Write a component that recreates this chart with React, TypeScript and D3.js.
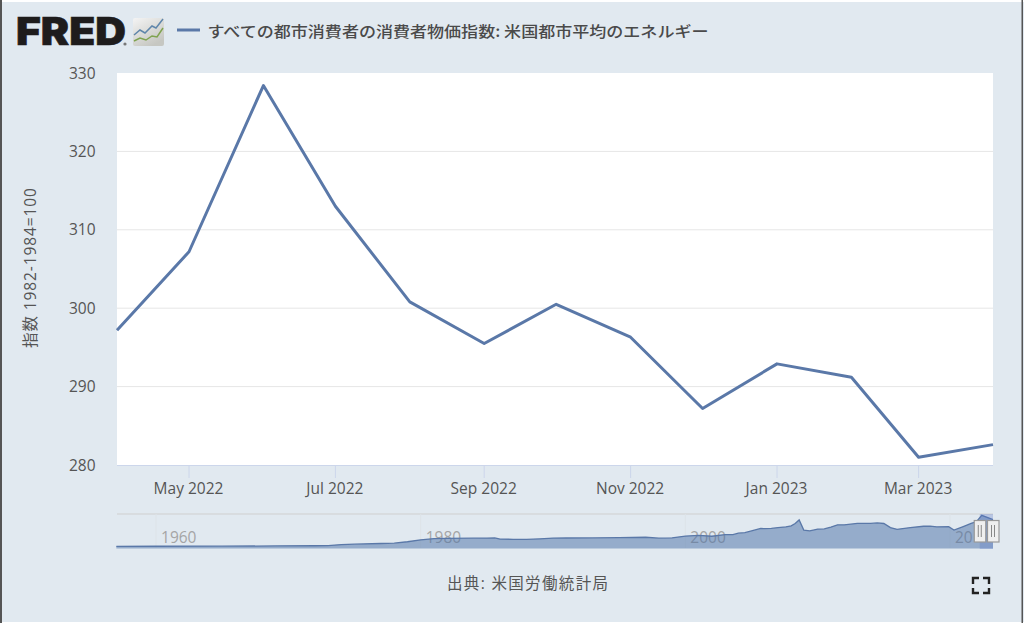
import React from "react";
import * as d3 from "d3";

const W = 1024;
const H = 623;

const monthDates = ["2022-04-01","2022-05-01","2022-06-01","2022-07-01","2022-08-01","2022-09-01","2022-10-01","2022-11-01","2022-12-01","2023-01-01","2023-02-01","2023-03-01","2023-04-01"];
const monthValues = [297.2,307.2,328.4,313.0,300.8,295.5,300.5,296.3,287.2,292.9,291.2,281.0,282.6];
const yTicks = [280,290,300,310,320,330];
const xTickDates = ["2022-05-01","2022-07-01","2022-09-01","2022-11-01","2023-01-01","2023-03-01"];
const xTickLabels = ["May 2022","Jul 2022","Sep 2022","Nov 2022","Jan 2023","Mar 2023"];

const navYears = [1957,1960,1965,1969,1972,1973,1974,1975,1977,1978,1979,1980,1981,1982,1984,1985,1985.6,1986,1987,1988,1989,1990,1991,1993,1995,1997,1998,1999,2000,2001,2002,2003,2003.6,2004,2004.5,2005,2005.7,2006,2006.5,2007,2007.6,2008,2008.3,2008.6,2008.95,2009.4,2010,2010.5,2011,2011.5,2012,2013,2014,2014.5,2015,2015.5,2016,2017,2018,2018.5,2019,2019.9,2020.3,2021,2021.6,2022,2022.4,2023.25];
const navValues = [21,22,23,25,27,29,38,42,49,52,66,85,97,99,101,102,104,92,90,90,95,102,103,104,106,110,101,105,122,129,120,136,135,150,155,172,196,194,197,205,212,222,245,280,180,172,190,192,210,232,232,246,246,250,245,205,188,205,218,220,212,213,180,215,245,262,325,283];
const navTicks = [1960,1980,2000,2020];
const navTickLabels = ["1960","1980","2000","20"];

const title = "すべての都市消費者の消費者物価指数: 米国都市平均のエネルギー";
const yAxisTitle = "指数 1982-1984=100";
const source = "出典: 米国労働統計局";

const parse = d3.utcParse("%Y-%m-%d");
const BG = "#e1e9f0";
const BLUE = "#5a78a8";
const TXT = "#555";
const FONT = "'Open Sans','Noto Sans CJK JP',sans-serif";
const CJK = "'Noto Sans CJK JP','Open Sans',sans-serif";

const x = d3.scaleUtc().domain([parse(monthDates[0])!, parse(monthDates[monthDates.length - 1])!]).range([117, 993]);
const y = d3.scaleLinear().domain([280, 330]).range([465, 73]);
const navX = d3.scaleLinear().domain([1957.05, 2023.25]).range([117, 993]);
const navY = d3.scaleLinear().domain([0, 328]).range([548.5, 515]);

const series = monthDates.map((d, i) => ({ d: parse(d)!, v: monthValues[i] }));
const linePath = d3.line<{ d: Date; v: number }>().x((p) => x(p.d)).y((p) => y(p.v))(series)!;
const navSeries = navYears.map((t, i) => ({ t, v: navValues[i] }));
const navLine = d3.line<{ t: number; v: number }>().x((p) => navX(p.t)).y((p) => navY(p.v))(navSeries)!;
const navArea = d3.area<{ t: number; v: number }>().x((p) => navX(p.t)).y0(548.5).y1((p) => navY(p.v))(navSeries)!;
const selStart = navX(2022.25);

const Handle = ({ cx }: { cx: number }) => (
  <g>
    <rect x={cx - 5.5} y={520.5} width={11.5} height={21.5} fill="#efefef" stroke="#999" strokeWidth={1.2} />
    <line x1={cx - 1.5} x2={cx - 1.5} y1={525} y2={537} stroke="#888" />
    <line x1={cx + 1.5} x2={cx + 1.5} y1={525} y2={537} stroke="#888" />
  </g>
);

export default function App() {
  return (
    <svg width={W} height={H} viewBox={`0 0 ${W} ${H}`} style={{ position: "absolute", left: 0, top: 0, background: "#fff" }}>
      <rect x={0} y={2} width={W} height={620} fill={BG} />
      <rect x={0} y={0} width={2} height={H} fill="#555" />
      <rect x={1021.5} y={0} width={1.5} height={H} fill="#555" />

      {/* logo */}
      <text x={16} y={45} fontFamily="Inter, 'Liberation Sans', sans-serif" fontWeight={900} fontSize={38} fill="#1e1c1c" stroke="#1e1c1c" strokeWidth={0.6} textLength={110} lengthAdjust="spacingAndGlyphs">FRED</text>
      <circle cx={125} cy={44} r={1.6} fill="#777" />
      <defs>
        <linearGradient id="logoBg" x1="0" y1="0" x2="0.6" y2="1">
          <stop offset="0" stopColor="#f4f4f4" />
          <stop offset="1" stopColor="#c6c7c2" />
        </linearGradient>
      </defs>
      <rect x={133} y={18} width={31} height={28} rx={2} fill="url(#logoBg)" />
      <polyline points="134,35 140,30 145,33 152,26 156,28 163,19" fill="none" stroke="#5f86ab" strokeWidth={1.5} />
      <polyline points="134,41 140,38 146,40 152,36 157,37 163,28" fill="none" stroke="#7fa350" strokeWidth={1.5} />

      {/* legend */}
      <line x1={177} x2={200} y1={30} y2={30} stroke={BLUE} strokeWidth={3} />
      <text x={207.5} y={37} fontFamily={CJK} fontSize={15} fontWeight={500} fill="#4a4a4a" textLength={501} lengthAdjust="spacingAndGlyphs">{title}</text>

      {/* plot */}
      <rect x={117} y={73} width={876} height={392} fill="#fff" />
      {yTicks.filter((t) => t !== 280 && t !== 330).map((t) => (
        <line key={t} x1={117} x2={993} y1={y(t)} y2={y(t)} stroke="#e6e6e6" strokeWidth={1} />
      ))}
      <line x1={117} x2={993} y1={465.5} y2={465.5} stroke="#ccd6eb" strokeWidth={1} />
      {yTicks.map((t) => (
        <text key={t} x={95.5} y={y(t) + 5.5} textAnchor="end" fontFamily={FONT} fontSize={15.5} fill={TXT}>{t}</text>
      ))}
      {xTickDates.map((d, i) => {
        const px = x(parse(d)!);
        return (
          <g key={d}>
            <line x1={px} x2={px} y1={465} y2={478} stroke="#ccd6eb" strokeWidth={1} />
            <text x={px - 0.5} y={493.5} textAnchor="middle" fontFamily={FONT} fontSize={15.5} fill={TXT}>{xTickLabels[i]}</text>
          </g>
        );
      })}
      <path d={linePath} fill="none" stroke={BLUE} strokeWidth={3} strokeLinejoin="round" />
      <text transform="translate(36,268) rotate(-90)" textAnchor="middle" fontFamily={FONT} fontSize={15.5} fill={TXT} textLength={160} lengthAdjust="spacing">{yAxisTitle}</text>

      {/* navigator */}
      <line x1={117} x2={993} y1={514} y2={514} stroke="#cfcfcf" strokeWidth={1} />
      {navTicks.map((t, i) => (
        <g key={t}>
          <line x1={navX(t)} x2={navX(t)} y1={514} y2={548} stroke="#dde3e8" strokeWidth={1} />
          <text x={navX(t) + 5} y={543} fontFamily={FONT} fontSize={15.5} fill="#a5a5a5">{navTickLabels[i]}</text>
        </g>
      ))}
      <path d={navArea} fill="#4a6fa5" fillOpacity={0.5} />
      <path d={navLine} fill="none" stroke={BLUE} strokeWidth={1.3} />
      <rect x={selStart} y={514} width={993 - selStart} height={35} fill="#5a78c8" fillOpacity={0.3} />
      <Handle cx={selStart} />
      <Handle cx={993} />

      {/* source */}
      <text x={527.5} y={588.5} textAnchor="middle" fontFamily={FONT} fontSize={15.5} fill={TXT} textLength={161} lengthAdjust="spacing">{source}</text>

      {/* fullscreen icon */}
      <g fill="none" stroke="#222" strokeWidth={2.4}>
        <path d="M973 584 V578 H979" />
        <path d="M983 578 H989 V584" />
        <path d="M973 588 V593 H979" />
        <path d="M983 593 H989 V588" />
      </g>
    </svg>
  );
}
